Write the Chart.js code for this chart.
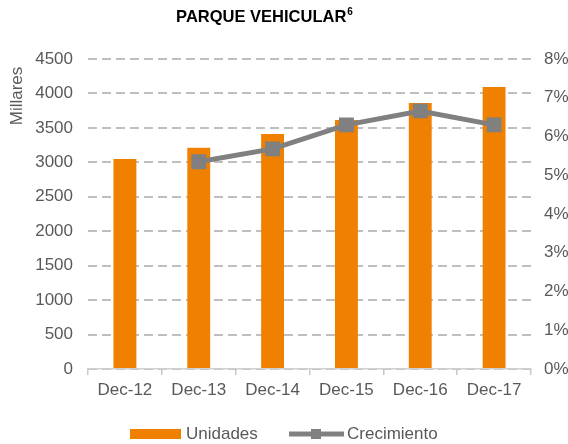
<!DOCTYPE html>
<html>
<head>
<meta charset="utf-8">
<script src="https://cdn.jsdelivr.net/npm/chart.js@4/dist/chart.umd.min.js"></script>
<style>
  html, body { margin: 0; padding: 0; background: #fff; }
  #wrap { width: 568px; height: 444px; }
</style>
</head>
<body>
<div id="wrap"><canvas id="c" width="568" height="444"></canvas></div>
<script>
// Parque vehicular (millares de unidades) y su crecimiento anual
const categories = ['Dec-12', 'Dec-13', 'Dec-14', 'Dec-15', 'Dec-16', 'Dec-17'];
const unidades = [3050, 3210, 3410, 3615, 3860, 4095];
const crecimiento = [null, 5.35, 5.68, 6.3, 6.66, 6.3];
const leftTicks = [0, 500, 1000, 1500, 2000, 2500, 3000, 3500, 4000, 4500];
const rightTicks = [0, 1, 2, 3, 4, 5, 6, 7, 8];

const ORANGE = '#f08000';
const GREY = '#808080';
const TEXT = '#595959';
const FONT = '"Liberation Sans", Arial, sans-serif';

// Title (with superscript note mark), left axis caption and the bottom legend
const titleAndLegend = {
  id: 'titleAndLegend',
  afterDraw(chart) {
    const ctx = chart.ctx;
    ctx.save();
    ctx.fillStyle = '#000';
    ctx.textBaseline = 'alphabetic';
    ctx.textAlign = 'left';
    const t = 'PARQUE VEHICULAR';
    ctx.font = 'bold 16.5px ' + FONT;
    const tw = ctx.measureText(t).width;
    ctx.font = 'bold 10px ' + FONT;
    const sw = ctx.measureText('6').width;
    const x0 = 264 - (tw + sw) / 2;
    ctx.font = 'bold 16.5px ' + FONT;
    ctx.fillText(t, x0, 22);
    ctx.font = 'bold 10px ' + FONT;
    ctx.fillText('6', x0 + tw + 1, 15);

    // axis caption
    ctx.save();
    ctx.translate(17, 96);
    ctx.rotate(-Math.PI / 2);
    ctx.fillStyle = TEXT;
    ctx.font = '17px ' + FONT;
    ctx.textAlign = 'center';
    ctx.textBaseline = 'middle';
    ctx.fillText('Millares', 0, 0);
    ctx.restore();

    const cy = 434;
    ctx.fillStyle = ORANGE;
    ctx.fillRect(130, cy - 5, 51, 10);
    ctx.fillStyle = TEXT;
    ctx.font = '17px ' + FONT;
    ctx.textBaseline = 'middle';
    ctx.textAlign = 'left';
    ctx.fillText('Unidades', 186, cy);
    ctx.strokeStyle = GREY;
    ctx.lineWidth = 5;
    ctx.beginPath();
    ctx.moveTo(289, cy);
    ctx.lineTo(344, cy);
    ctx.stroke();
    ctx.fillStyle = GREY;
    ctx.fillRect(311, cy - 5, 10, 10);
    ctx.fillStyle = TEXT;
    ctx.fillText('Crecimiento', 347, cy);
    ctx.restore();
  }
};

new Chart(document.getElementById('c'), {
  data: {
    labels: categories,
    datasets: [
      {
        type: 'line',
        label: 'Crecimiento',
        data: crecimiento,
        yAxisID: 'y1',
        borderColor: GREY,
        backgroundColor: GREY,
        borderWidth: 5,
        pointStyle: 'rect',
        pointRadius: 7,
        pointHoverRadius: 7,
        pointBackgroundColor: GREY,
        pointBorderColor: GREY,
        tension: 0,
        order: 0
      },
      {
        type: 'bar',
        label: 'Unidades',
        data: unidades,
        yAxisID: 'y',
        backgroundColor: ORANGE,
        barPercentage: 0.62,
        categoryPercentage: 0.5,
        order: 1
      }
    ]
  },
  plugins: [titleAndLegend],
  options: {
    responsive: false,
    animation: false,
    devicePixelRatio: 1,
    layout: { padding: { top: 59, bottom: 40, left: 0, right: 0 } },
    plugins: { legend: { display: false }, title: { display: false }, tooltip: { enabled: false } },
    scales: {
      x: {
        offset: true,
        afterFit(s) { s.height = 35; },
        grid: { display: true, offset: true, drawOnChartArea: false, tickLength: 6, color: '#c8c8c8', lineWidth: 1.5 },
        border: { display: true, color: '#d0d0d0', width: 1.5 },
        ticks: { color: TEXT, font: { family: FONT, size: 17 }, padding: 5 }
      },
      y: {
        position: 'left',
        min: 0, max: 4500,
        afterFit(s) { s.width = 88; },
        afterBuildTicks(s) { s.ticks = leftTicks.map(v => ({ value: v })); },
        grid: { color: '#bfbfbf', lineWidth: 2, drawTicks: false },
        border: { display: false, dash: [9, 5] },
        ticks: { color: TEXT, font: { family: FONT, size: 17 }, padding: 15, callback: v => String(v) }
      },
      y1: {
        position: 'right',
        min: 0, max: 8,
        afterFit(s) { s.width = 37; },
        afterBuildTicks(s) { s.ticks = rightTicks.map(v => ({ value: v })); },
        grid: { display: false },
        border: { display: false },
        ticks: { color: TEXT, font: { family: FONT, size: 17 }, padding: 5, callback: v => v + '%' }
      }
    }
  }
});
</script>
</body>
</html>
